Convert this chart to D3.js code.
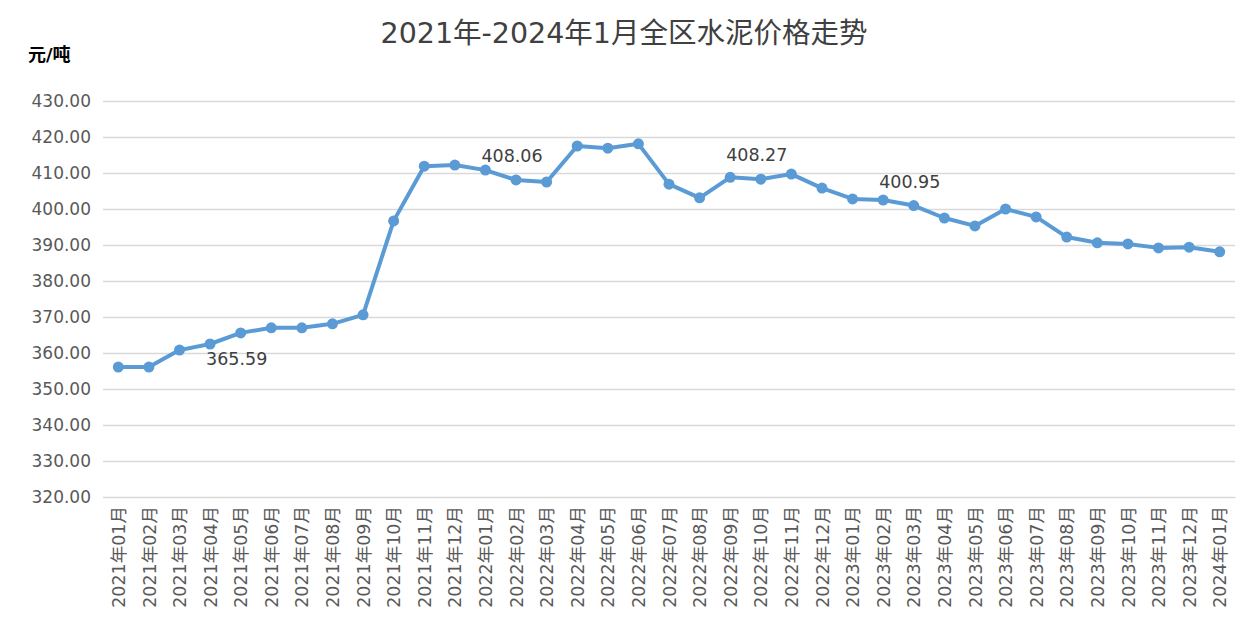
<!DOCTYPE html>
<html><head><meta charset="utf-8">
<script src="https://cdn.jsdelivr.net/npm/d3@7"></script>
<style>body{margin:0;background:#fff;font-family:"DejaVu Sans","Noto Sans CJK SC",sans-serif;}</style>
</head><body><div class="chart"></div>
<script>
var months = ["2021年01月","2021年02月","2021年03月","2021年04月","2021年05月","2021年06月","2021年07月","2021年08月","2021年09月","2021年10月","2021年11月","2021年12月",
"2022年01月","2022年02月","2022年03月","2022年04月","2022年05月","2022年06月","2022年07月","2022年08月","2022年09月","2022年10月","2022年11月","2022年12月",
"2023年01月","2023年02月","2023年03月","2023年04月","2023年05月","2023年06月","2023年07月","2023年08月","2023年09月","2023年10月","2023年11月","2023年12月","2024年01月"];
var prices = [356.1,356.1,360.8,362.5,365.59,367.0,367.0,368.1,370.6,396.7,411.9,412.2,
410.8,408.06,407.5,417.5,416.9,418.1,406.9,403.1,408.8,408.27,409.7,405.8,
402.8,402.5,400.95,397.5,395.3,400.0,397.8,392.2,390.6,390.3,389.2,389.4,388.1];
var labelled = [4,13,21,26];
var yTicks = [320,330,340,350,360,370,380,390,400,410,420,430];

var svg = d3.select(".chart").append("svg").attr("width",1249).attr("height",633);
var x = d3.scalePoint().domain(months).range([103,1235]).padding(0.5);
var y = d3.scaleLinear().domain([320,430]).range([497,101]);

svg.append("text").attr("x",624).attr("y",43).attr("text-anchor","middle")
  .attr("font-size",28.5).attr("fill","#404040").text("2021年-2024年1月全区水泥价格走势");
svg.append("text").attr("x",28).attr("y",61).attr("font-size",18).attr("font-weight","bold")
  .attr("fill","#000").text("元/吨");

var yAxis = svg.append("g").attr("transform","translate(103,0)")
  .call(d3.axisLeft(y).tickValues(yTicks).tickSize(-1132).tickFormat(d3.format(".2f")));
yAxis.select(".domain").remove();
yAxis.selectAll("line").attr("stroke","#d9d9d9").attr("stroke-width",1.3);
yAxis.selectAll("text").attr("x",-12).attr("font-size",17).attr("fill","#595959")
  .attr("font-family","DejaVu Sans");

var xAxis = svg.append("g").attr("transform","translate(0,497)")
  .call(d3.axisBottom(x).tickSize(0));
xAxis.select(".domain").attr("stroke","#d9d9d9");
xAxis.selectAll("text").attr("transform","rotate(-90)").attr("text-anchor","end")
  .attr("x",-9).attr("y",0).attr("dy","0.35em").attr("font-size",17.5).attr("fill","#595959")
  .attr("font-family","DejaVu Sans, Noto Sans CJK SC");

var line = d3.line().x((d,i)=>x(months[i])).y(d=>y(d));
svg.append("path").datum(prices).attr("d",line).attr("fill","none")
  .attr("stroke","#5b9bd5").attr("stroke-width",4).attr("stroke-linejoin","round");
svg.selectAll("circle.pt").data(prices).enter().append("circle")
  .attr("cx",(d,i)=>x(months[i])).attr("cy",d=>y(d)).attr("r",5.5).attr("fill","#5b9bd5");

svg.selectAll("text.lbl").data(labelled).enter().append("text")
  .attr("x",i=>x(months[i])-4).attr("y",i=> i===4 ? y(prices[i])+32 : y(prices[i])-18)
  .attr("text-anchor","middle").attr("font-size",17.5).attr("fill","#404040")
  .text(i=>prices[i].toFixed(2));
</script></body></html>
